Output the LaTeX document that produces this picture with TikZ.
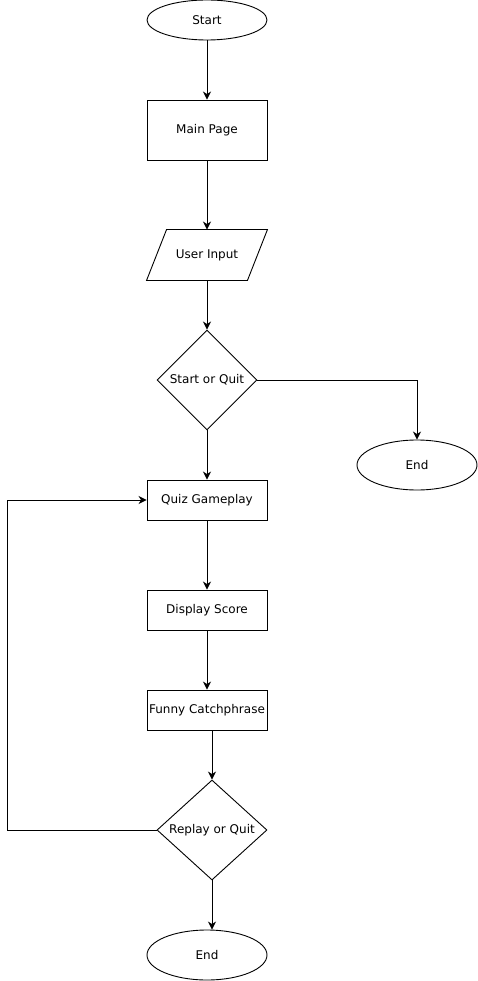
\documentclass[tikz,border=0pt]{standalone}
\usepackage{fontspec}
\setmainfont{DejaVu Sans}
\usetikzlibrary{shapes.geometric,arrows.meta}
\begin{document}
\begin{tikzpicture}[x=1pt,y=-1pt,line width=0.9pt]
    \tikzstyle{lbl} = [font=\fontsize{12}{14}\selectfont, inner sep=0pt]
    \tikzstyle{proc} = [lbl, rectangle, draw, minimum width=120pt]
    \tikzstyle{term} = [lbl, ellipse, draw, minimum width=120pt]
    \tikzstyle{dec} = [lbl, diamond, draw, minimum height=100pt]
    \tikzstyle{arr} = [-{Stealth[length=8pt,width=8pt,inset=2.5pt]}]
    \useasboundingbox (0,0) rectangle (478,981);
    \node[term, minimum height=40pt] (start) at (207,20) {Start};
    \node[proc, minimum height=60pt] (main) at (207,130) {Main Page};
    \node[lbl, minimum width=120pt, minimum height=50pt] (input) at
    (207,255) {User Input}; \node[dec, minimum width=100pt] (sq) at
    (207,380) {Start or Quit}; \node[term, minimum height=50pt] (end1)
    at (417,465) {End}; \node[proc, minimum height=40pt] (quiz) at
    (207,500) {Quiz Gameplay}; \node[proc, minimum height=40pt]
    (score) at (207,610) {Display Score}; \node[proc, minimum
    height=40pt] (funny) at (207,710) {Funny Catchphrase};
    \node[dec, minimum width=110pt] (rq) at (212,830) {Replay or
    Quit}; \node[term, minimum height=50pt] (end2) at (207,955) {End};
    \coordinate (loop) at (7.5,830);
    % parallelogram round the input text
    \draw (input.south west) -- ([xshift=-20pt]input.south east) --
    (input.north east) -- ([xshift=20pt]input.north west) -- cycle;
    \draw[arr] (start) -- (main); \draw[arr] (main) -- (input);
    \draw[arr] (input) -- (sq); \draw[arr] (sq) -- (quiz);
    \draw[arr] (sq.east) -| (end1.north); \draw[arr] (quiz) --
    (score); \draw[arr] (score) -- (funny); \draw[arr] (rq.north |-
    funny.south) -- (rq.north); \draw[arr] (rq.south) -- (rq.south
    |- end2.north); \draw[arr] (rq.west) -- (loop) |- (quiz.west);
  \end{tikzpicture}
\end{document}
